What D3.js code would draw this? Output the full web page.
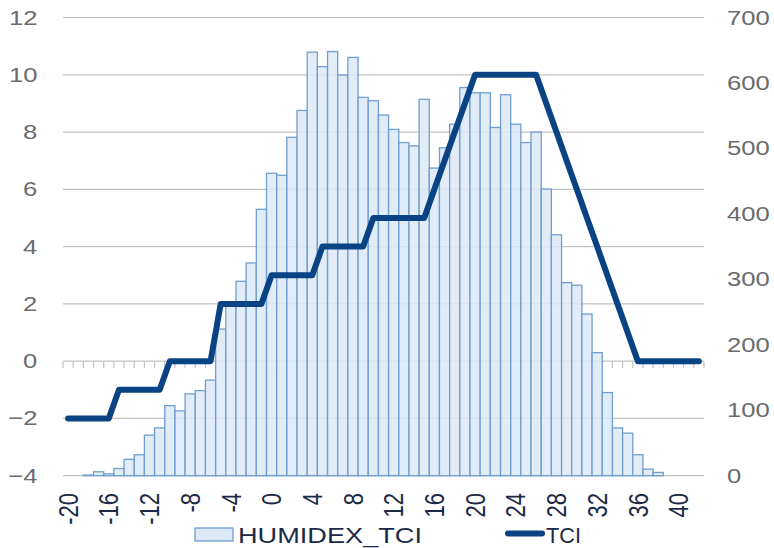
<!DOCTYPE html>
<html>
<head>
<meta charset="utf-8">
<script src="https://cdn.jsdelivr.net/npm/d3@7"></script>
<style>
  html, body { margin: 0; padding: 0; background: #fff; }
  svg { display: block; font-family: "Liberation Sans", Arial, sans-serif; }
</style>
</head>
<body>
<div id="chart"></div>
<script>
// HUMIDEX_TCI frequency (bars, right axis) and TCI (line, left axis)

const categories = [-20, -19, -18, -17, -16, -15, -14, -13, -12, -11,
  -10, -9, -8, -7, -6, -5, -4, -3, -2, -1,
  0, 1, 2, 3, 4, 5, 6, 7, 8, 9,
  10, 11, 12, 13, 14, 15, 16, 17, 18, 19,
  20, 21, 22, 23, 24, 25, 26, 27, 28, 29,
  30, 31, 32, 33, 34, 35, 36, 37, 38, 39,
  40, 41, 42];

const humidexTci = [0, 0, 1, 6, 3, 11, 25, 32, 62, 73,
  107, 99, 125, 130, 146, 224, 262, 297, 325, 407,
  462, 459, 517, 558, 647, 625, 648, 612, 639, 578,
  573, 551, 529, 509, 504, 575, 470, 501, 537, 593,
  585, 585, 532, 582, 537, 509, 525, 438, 368, 295,
  291, 247, 188, 127, 73, 65, 32, 10, 5, 0,
  0, 0, 0];

const tci = [-2, -2, -2, -2, -2, -1, -1, -1, -1, -1,
  0, 0, 0, 0, 0, 2, 2, 2, 2, 2,
  3, 3, 3, 3, 3, 4, 4, 4, 4, 4,
  5, 5, 5, 5, 5, 5, 6, 7, 8, 9,
  10, 10, 10, 10, 10, 10, 10, 9, 8, 7,
  6, 5, 4, 3, 2, 1, 0, 0, 0, 0,
  0, 0, 0];

const leftTicks = [-4, -2, 0, 2, 4, 6, 8, 10, 12];
const rightTicks = [0, 100, 200, 300, 400, 500, 600, 700];
const xLabels = [-20, -16, -12, -8, -4, 0, 4, 8, 12, 16, 20, 24, 28, 32, 36, 40];

const W = 774, H = 548;
const margin = { top: 17.5, right: 70, bottom: 72.3, left: 63 };
const innerW = W - margin.left - margin.right;
const innerH = H - margin.top - margin.bottom;

const BAR_FILL = '#dde9f6';
const BAR_STROKE = '#6e9fd0';
const LINE_COLOR = '#0a4384';
const GRID = '#c3c3c3';
const AXIS_TEXT = '#6b6b6b';
const DARK_TEXT = '#1c2a48';

const svg = d3.select('#chart').append('svg')
  .attr('width', W)
  .attr('height', H);

const g = svg.append('g').attr('transform', `translate(${margin.left},${margin.top})`);

const x = d3.scaleBand().domain(categories).range([0, innerW]).padding(0);
const yL = d3.scaleLinear().domain([-4, 12]).range([innerH, 0]);
const yR = d3.scaleLinear().domain([0, 700]).range([innerH, 0]);

// Gridlines (left axis ticks, except 0 which is the category axis)
g.append('g').selectAll('line')
  .data(leftTicks.filter(d => d !== 0))
  .join('line')
  .attr('x1', 0).attr('x2', innerW)
  .attr('y1', d => yL(d)).attr('y2', d => yL(d))
  .attr('stroke', GRID)
  .attr('stroke-width', 1.2);

// Category axis at 0 with tick marks on boundaries
const zeroY = yL(0);
const axisG = g.append('g');
axisG.append('line')
  .attr('x1', 0).attr('x2', innerW)
  .attr('y1', zeroY).attr('y2', zeroY)
  .attr('stroke', GRID).attr('stroke-width', 1.2);
axisG.selectAll('line.tick')
  .data(categories.concat(['end']))
  .join('line')
  .attr('class', 'tick')
  .attr('x1', d => d === 'end' ? innerW : x(d))
  .attr('x2', d => d === 'end' ? innerW : x(d))
  .attr('y1', zeroY).attr('y2', zeroY + 7)
  .attr('stroke', GRID).attr('stroke-width', 1.2);

// Bars (right axis)
g.append('g').selectAll('rect')
  .data(categories.map((c, i) => ({ c, v: humidexTci[i] })).filter(d => d.v > 0))
  .join('rect')
  .attr('x', d => x(d.c))
  .attr('width', x.bandwidth())
  .attr('y', d => yR(d.v))
  .attr('height', d => yR(0) - yR(d.v))
  .attr('fill', BAR_FILL)
  .attr('fill-opacity', 0.85)
  .attr('stroke', BAR_STROKE)
  .attr('stroke-width', 1.3);

// TCI line (left axis)
const line = d3.line()
  .x((d, i) => x(categories[i]) + x.bandwidth() / 2)
  .y(d => yL(d));

g.append('path')
  .datum(tci)
  .attr('d', line)
  .attr('fill', 'none')
  .attr('stroke', LINE_COLOR)
  .attr('stroke-width', 6)
  .attr('stroke-linejoin', 'round')
  .attr('stroke-linecap', 'round');

// Left axis labels
const leftAxis = g.append('g')
  .call(d3.axisLeft(yL).tickValues(leftTicks).tickSize(0).tickPadding(20.5));
leftAxis.select('.domain').remove();
leftAxis.selectAll('text')
  .attr('font-size', 20.5)
  .attr('font-family', '"Liberation Sans", Arial, sans-serif')
  .attr('fill', AXIS_TEXT)
  .attr('transform', 'scale(1.25,1)');

// Right axis labels
const rightAxis = g.append('g')
  .attr('transform', `translate(${innerW},0)`)
  .call(d3.axisRight(yR).tickValues(rightTicks).tickSize(0).tickPadding(18.5));
rightAxis.select('.domain').remove();
rightAxis.selectAll('text')
  .attr('font-size', 20.5)
  .attr('font-family', '"Liberation Sans", Arial, sans-serif')
  .attr('fill', AXIS_TEXT)
  .attr('transform', 'scale(1.25,1)');

// Rotated category labels
g.append('g').selectAll('text')
  .data(xLabels)
  .join('text')
  .attr('transform', d => `translate(${x(d) + x.bandwidth() / 2},${493 - margin.top}) rotate(-90) scale(1,1.22)`)
  .attr('text-anchor', 'end')
  .attr('dy', '0.36em')
  .attr('font-size', 22)
  .attr('fill', DARK_TEXT)
  .text(d => d);

// Legend
const legend = svg.append('g');
legend.append('rect')
  .attr('x', 195).attr('y', 528)
  .attr('width', 38).attr('height', 13)
  .attr('fill', BAR_FILL)
  .attr('stroke', BAR_STROKE)
  .attr('stroke-width', 1.3);
legend.append('text')
  .attr('x', 238).attr('y', 543)
  .attr('font-size', 22)
  .attr('fill', DARK_TEXT)
  .attr('textLength', 184)
  .attr('lengthAdjust', 'spacingAndGlyphs')
  .text('HUMIDEX_TCI');
legend.append('line')
  .attr('x1', 508).attr('x2', 542)
  .attr('y1', 533.5).attr('y2', 533.5)
  .attr('stroke', LINE_COLOR)
  .attr('stroke-width', 6)
  .attr('stroke-linecap', 'round');
legend.append('text')
  .attr('x', 546).attr('y', 543)
  .attr('font-size', 22)
  .attr('fill', DARK_TEXT)
  .attr('textLength', 35)
  .attr('lengthAdjust', 'spacingAndGlyphs')
  .text('TCI');
</script>
</body>
</html>
